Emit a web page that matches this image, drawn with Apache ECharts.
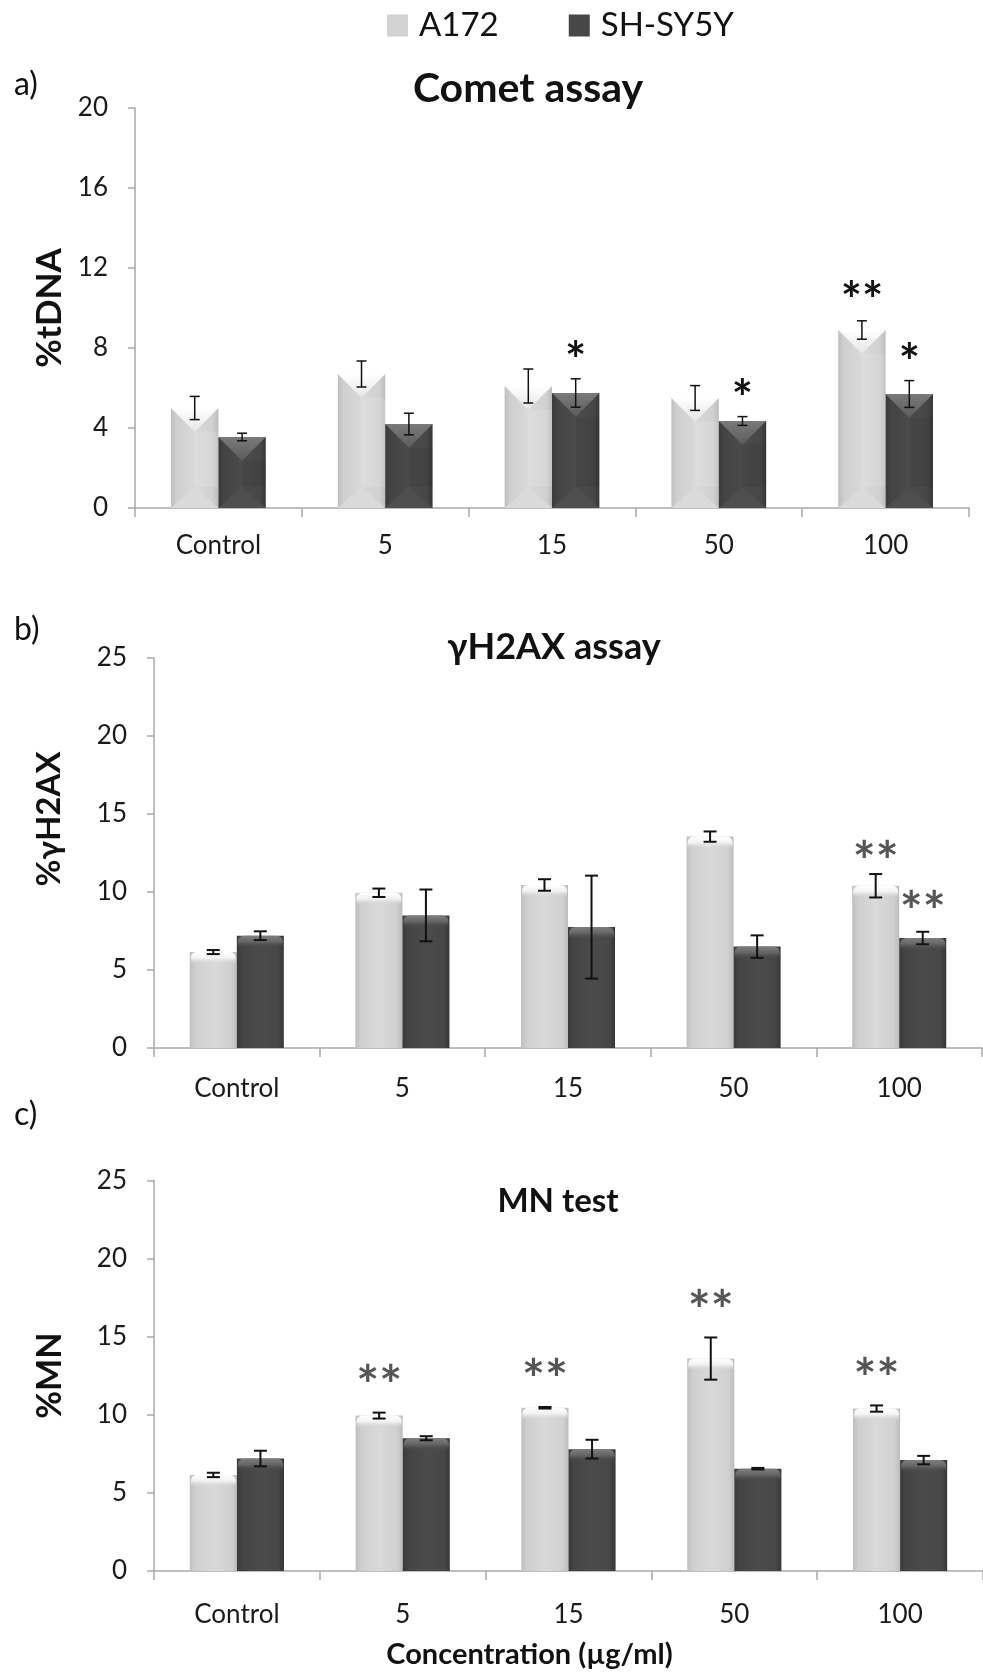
<!DOCTYPE html>
<html>
<head>
<meta charset="utf-8">
<script src="https://cdn.jsdelivr.net/npm/echarts@6/dist/echarts.min.js"></script>
<style>
html,body{margin:0;padding:0;background:#fff;}
#chart{width:983px;height:1675px;}
</style>
</head>
<body>
<div id="chart"></div>
<script>
// ---- data ----
const categories = ['Control', '5', '15', '50', '100'];

const cometA172 = [5.0, 6.7, 6.1, 5.5, 8.9];
const cometA172Err = [0.58, 0.65, 0.85, 0.62, 0.46];
const cometSH = [3.55, 4.2, 5.75, 4.35, 5.7];
const cometSHErr = [0.19, 0.54, 0.71, 0.22, 0.67];
const cometA172Sig = ['', '', '', '', '**'];
const cometSHSig = ['', '', '*', '*', '*'];

const h2axA172 = [6.15, 9.95, 10.45, 13.55, 10.4];
const h2axA172Err = [0.13, 0.27, 0.37, 0.33, 0.75];
const h2axSH = [7.2, 8.5, 7.75, 6.5, 7.05];
const h2axSHErr = [0.28, 1.66, 3.3, 0.72, 0.4];
const h2axA172Sig = ['', '', '', '', '**'];
const h2axSHSig = ['', '', '', '', '**'];

const mnA172 = [6.15, 9.95, 10.45, 13.6, 10.4];
const mnA172Err = [0.14, 0.19, 0.05, 1.35, 0.2];
const mnSH = [7.2, 8.5, 7.8, 6.55, 7.1];
const mnSHErr = [0.5, 0.13, 0.6, 0.05, 0.27];
const mnA172Sig = ['', '**', '**', '**', '**'];
const mnSHSig = ['', '', '', '', ''];

const seriesNames = ['A172', 'SH-SY5Y'];
const yTitles = ['%tDNA', '%γH2AX', '%MN'];
const panelTitles = ['Comet assay', 'γH2AX assay', 'MN test'];
const panelLetters = ['a)', 'b)', 'c)'];
const xTitle = 'Concentration (µg/ml)';

// ---- styling ----
const FONT = 'Lato, "Open Sans", sans-serif';
const AXIS_GRAY = '#a9a9a9';
const LIGHT = '#d2d2d2';
const DARK = '#474747';

function barRenderer(pos, kind, sigs, starStyle) {
  return function (params, api) {
    const i = params.dataIndex;
    const ci = api.value(0), v = api.value(1), e = api.value(2);
    const p0 = api.coord([ci, 0]);
    const p1 = api.coord([ci, v]);
    const band = api.size([1, 0])[0];
    const w = band * 0.284;
    const x0 = p0[0] + (pos === 0 ? -w : 0);
    const x1 = x0 + w, xc = x0 + w / 2;
    const yb = p0[1], yt = p1[1];
    const light = pos === 0;
    const ch = [];
    const bodyFill = new echarts.graphic.LinearGradient(0, 0, 1, 0, light ? [
      {offset: 0, color: '#bfbfbf'}, {offset: 0.12, color: '#cfcfcf'},
      {offset: 0.5, color: '#d9d9d9'}, {offset: 0.88, color: '#d0d0d0'}, {offset: 1, color: '#bcbcbc'}
    ] : [
      {offset: 0, color: '#3a3a3a'}, {offset: 0.12, color: '#444'},
      {offset: 0.5, color: '#4b4b4b'}, {offset: 0.88, color: '#474747'}, {offset: 1, color: '#363636'}
    ]);
    ch.push({type: 'rect', shape: {x: x0, y: yt, width: w, height: yb - yt}, style: {fill: bodyFill}});
    if (kind === 'bevel') {
      const d = Math.min(w * 0.5, (yb - yt) / 2);
      ch.push({type: 'polygon', shape: {points: [[x0, yt], [x1, yt], [xc, yt + d]]},
        style: {fill: new echarts.graphic.LinearGradient(0, 0, 0, 1, light ?
          [{offset: 0, color: '#ffffff'}, {offset: 1, color: '#e6e6e6'}] :
          [{offset: 0, color: '#7a7a7a'}, {offset: 1, color: '#5c5c5c'}])}});
      const db = Math.min(w * 0.45, (yb - yt) / 2);
      ch.push({type: 'polygon', shape: {points: [[x0, yb], [x1, yb], [xc, yb - db]]},
        style: {fill: light ? '#dadada' : '#4e4e4e'}});
      ch.push({type: 'rect', shape: {x: x0 + w * 0.5, y: yt + d, width: w * 0.5, height: Math.max(0, yb - yt - d - db)},
        style: {fill: light ? 'rgba(255,255,255,0.12)' : 'rgba(0,0,0,0.06)'}});
    } else {
      const hh = Math.min(12, (yb - yt));
      ch.push({type: 'rect', shape: {x: x0 + 1, y: yt, width: w - 2, height: hh, r: [6, 6, 0, 0]},
        style: {fill: new echarts.graphic.LinearGradient(0, 0, 0, 1, light ?
          [{offset: 0, color: '#ffffff'}, {offset: 0.5, color: '#f2f2f2'}, {offset: 1, color: 'rgba(215,215,215,0)'}] :
          [{offset: 0, color: '#7e7e7e'}, {offset: 0.5, color: '#666'}, {offset: 1, color: 'rgba(75,75,75,0)'}])}});
    }
    // error bar
    const pe1 = api.coord([ci, v + e]);
    const pe0 = api.coord([ci, v - e]);
    const cap = kind === 'bevel' ? 5 : 6.5;
    const lw = kind === 'bevel' ? 1.5 : 2;
    const ls = {stroke: '#111', lineWidth: lw};
    ch.push({type: 'line', shape: {x1: xc, y1: pe1[1], x2: xc, y2: pe0[1]}, style: ls});
    ch.push({type: 'line', shape: {x1: xc - cap, y1: pe1[1], x2: xc + cap, y2: pe1[1]}, style: ls});
    ch.push({type: 'line', shape: {x1: xc - cap, y1: pe0[1], x2: xc + cap, y2: pe0[1]}, style: ls});
    const s = sigs[i];
    if (s) {
      ch.push({type: 'text', x: xc, y: pe1[1] - starStyle.offset[pos],
        style: {text: s, fill: starStyle.color, font: 'bold ' + starStyle.size + 'px ' + FONT,
          align: 'center', verticalAlign: 'middle'}});
    }
    return {type: 'group', children: ch};
  };
}

const panels = [
  {A: cometA172, Ae: cometA172Err, As: cometA172Sig, S: cometSH, Se: cometSHErr, Ss: cometSHSig,
   kind: 'bevel', max: 20, interval: 4, star: {color: '#111', size: 50, offset: [19, 17]},
   yName: {size: 35, pad: [0, 0, 0, 0], gap: 67}, labelMargin: 25},
  {A: h2axA172, Ae: h2axA172Err, As: h2axA172Sig, S: h2axSH, Se: h2axSHErr, Ss: h2axSHSig,
   kind: 'round', max: 25, interval: 5, star: {color: '#555', size: 54, offset: [11, 19]},
   yName: {size: 33, pad: [0, 0, 0, 68], gap: 88}, labelMargin: 28},
  {A: mnA172, Ae: mnA172Err, As: mnA172Sig, S: mnSH, Se: mnSHErr, Ss: mnSHSig,
   kind: 'round', max: 25, interval: 5, star: {color: '#555', size: 54, offset: [26, 26]},
   yName: {size: 34, pad: [0, 0, 0, 0], gap: 87}, labelMargin: 31}
];

const grids = [
  {left: 135, right: 14, top: 108, height: 400},
  {left: 154, right: 1, top: 658, height: 390},
  {left: 154, right: -10, top: 1180.5, height: 390.5}
];

const xAxes = [], yAxes = [], series = [];
panels.forEach((p, g) => {
  xAxes.push({
    type: 'category', gridIndex: g, data: categories,
    axisLine: {lineStyle: {color: AXIS_GRAY, width: 1.5}},
    axisTick: {show: true, length: 9, lineStyle: {color: AXIS_GRAY, width: 1.5}},
    axisLabel: {color: '#1a1a1a', fontSize: 26, fontFamily: FONT, margin: p.labelMargin},
    name: g === 2 ? xTitle : '', nameLocation: 'middle', nameGap: 69,
    nameTextStyle: {fontSize: 29, fontWeight: 'bold', color: '#111', fontFamily: FONT, padding: [0, 78, 0, 0]}
  });
  yAxes.push({
    type: 'value', gridIndex: g, min: 0, max: p.max, interval: p.interval,
    axisLine: {show: true, lineStyle: {color: AXIS_GRAY, width: 1.5}},
    axisTick: {show: true, length: 7, lineStyle: {color: AXIS_GRAY, width: 1.5}},
    splitLine: {show: false},
    axisLabel: {color: '#1a1a1a', fontSize: 26, fontFamily: FONT, margin: 27},
    name: yTitles[g], nameLocation: 'middle', nameRotate: 90, nameGap: p.yName.gap,
    nameTextStyle: {fontSize: p.yName.size, fontWeight: 'bold', color: '#111', fontFamily: FONT, padding: p.yName.pad}
  });
  [[p.A, p.Ae, p.As], [p.S, p.Se, p.Ss]].forEach((arr, k) => {
    series.push({
      type: 'custom', name: seriesNames[k], xAxisIndex: g, yAxisIndex: g,
      itemStyle: {color: k === 0 ? LIGHT : DARK},
      renderItem: barRenderer(k, p.kind, arr[2], p.star),
      data: arr[0].map((v, i) => [i, v, arr[1][i]]),
      encode: {x: 0, y: 1},
      clip: false
    });
  });
});

const titles = [
  {text: panelLetters[0], left: 9, top: 64, size: 32},
  {text: panelTitles[0], left: 523, top: 63, size: 41, bold: true},
  {text: panelLetters[1], left: 9, top: 609, size: 32},
  {text: panelTitles[1], left: 549, top: 624, size: 36, bold: true},
  {text: panelLetters[2], left: 9, top: 1094, size: 32},
  {text: panelTitles[2], left: 553, top: 1180, size: 33, bold: true}
].map(t => ({
  text: t.text, left: t.left, top: t.top, textAlign: t.bold ? 'center' : 'left',
  textStyle: {fontFamily: FONT, fontSize: t.size, fontWeight: t.bold ? 'bold' : 'normal', color: '#111'}
}));

const chart = echarts.init(document.getElementById('chart'), null, {renderer: 'canvas'});
chart.setOption({
  animation: false,
  backgroundColor: '#fff',
  title: titles,
  legend: {
    data: seriesNames, left: 382, top: 4, icon: 'rect', itemWidth: 21, itemHeight: 22, itemGap: 70,
    textStyle: {fontFamily: FONT, fontSize: 33, color: '#111', padding: [0, 0, 0, 6]}
  },
  grid: grids,
  xAxis: xAxes,
  yAxis: yAxes,
  series: series
});
</script>
</body>
</html>
